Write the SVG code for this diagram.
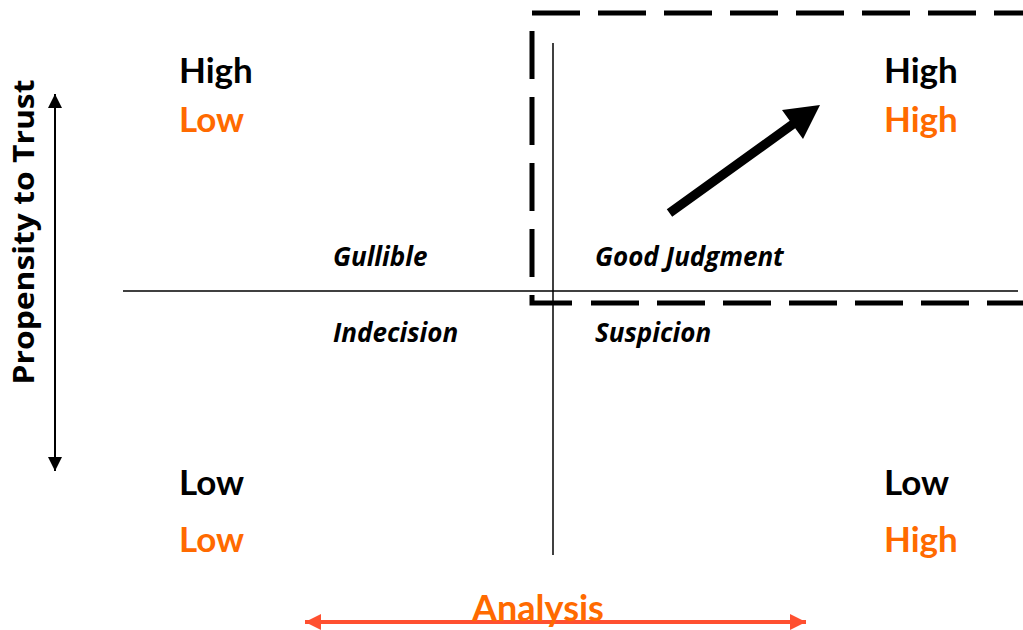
<svg xmlns="http://www.w3.org/2000/svg" width="1023" height="630" viewBox="0 0 1023 630">
<style>
.lbl{font-family:Lato,"Open Sans","Liberation Sans",sans-serif;font-weight:bold;font-size:35px}
.blk{fill:#000}
.org{fill:#FF6A00}
.q{font-family:"Open Sans",Lato,"Liberation Sans",sans-serif;font-weight:bold;font-style:italic;font-size:26px;fill:#000}
.dash{fill:none;stroke:#000;stroke-width:5;stroke-dasharray:48 18}
.axis{stroke:#000;stroke-width:1.5;fill:none}
</style>
<defs>
<marker id="ab" viewBox="0 0 10 10" refX="10" refY="5" markerWidth="7.5" markerHeight="7" orient="auto-start-reverse" markerUnits="strokeWidth"><path d="M0,0 L10,5 L0,10 z" fill="#000"/></marker>
<marker id="ao" viewBox="0 0 10 10" refX="10" refY="5" markerWidth="4" markerHeight="4" orient="auto-start-reverse" markerUnits="strokeWidth"><path d="M0,0 L10,5 L0,10 z" fill="#FF5030"/></marker>
</defs>
<rect width="1023" height="630" fill="#fff"/>
<g id="connectors">
<line class="axis" x1="123" y1="291" x2="1018" y2="291"/>
<line class="axis" x1="553" y1="43" x2="553" y2="555"/>
<line x1="55" y1="94" x2="55" y2="471" stroke="#000" stroke-width="2" marker-start="url(#ab)" marker-end="url(#ab)"/>
<line x1="305" y1="622" x2="806" y2="622" stroke="#FF5030" stroke-width="4" marker-start="url(#ao)" marker-end="url(#ao)"/>
<polygon points="666.8,209.2 789.7,120.7 782,110 820,105 803,139 795.2,128.3 672.2,216.8" fill="#000"/>
</g>
<g id="highlight">
<path class="dash" d="M532,13 H1040"/>
<path class="dash" d="M572,303 H532 V13"/>
<path class="dash" d="M591,303 H1040"/>
</g>
<g id="axis-trust"><text transform="translate(34,232) rotate(-90)" text-anchor="middle" textLength="305" lengthAdjust="spacingAndGlyphs" style="font-family:'Open Sans',Lato,'Liberation Sans',sans-serif;font-weight:bold;font-size:28px;fill:#000">Propensity to Trust</text></g>
<g id="axis-analysis"><text class="lbl" x="538" y="621" text-anchor="middle" style="fill:#FF6A00;font-size:36px">Analysis</text></g>
<g id="q-top-left"><text class="lbl blk" x="179" y="83">High</text><text class="lbl org" x="179" y="132">Low</text></g>
<g id="q-top-right"><text class="lbl blk" x="884" y="83">High</text><text class="lbl org" x="884" y="132">High</text></g>
<g id="q-bottom-left"><text class="lbl blk" x="179" y="495">Low</text><text class="lbl org" x="179" y="552">Low</text></g>
<g id="q-bottom-right"><text class="lbl blk" x="884" y="495">Low</text><text class="lbl org" x="884" y="552">High</text></g>
<g id="gullible"><text class="q" x="333" y="266">Gullible</text></g>
<g id="good-judgment"><text class="q" x="595" y="266">Good Judgment</text></g>
<g id="indecision"><text class="q" x="333" y="342">Indecision</text></g>
<g id="suspicion"><text class="q" x="595" y="342">Suspicion</text></g>
</svg>
